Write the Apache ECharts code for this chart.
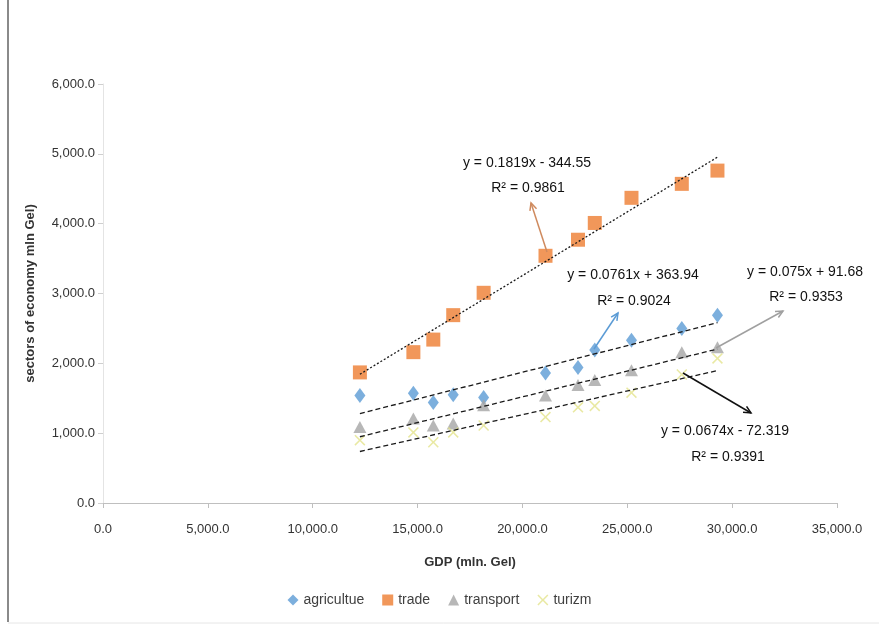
<!DOCTYPE html>
<html>
<head>
<meta charset="utf-8">
<script src="https://cdn.jsdelivr.net/npm/echarts@6/dist/echarts.min.js"></script>
<style>html,body{margin:0;padding:0;background:#fff}#c{width:879px;height:626px}</style>
</head>
<body>
<div id="c"></div>
<script>
const gdp = [12250, 14800, 15750, 16700, 18150, 21100, 22650, 23450, 25200, 27600, 29300];
const agriculture = [1540, 1570, 1440, 1550, 1510, 1860, 1940, 2190, 2330, 2500, 2690];
const trade = [1870, 2160, 2340, 2690, 3010, 3540, 3770, 4010, 4370, 4570, 4760];
const transport = [1090, 1210, 1110, 1140, 1400, 1540, 1690, 1760, 1900, 2160, 2230];
const turizm = [900, 1010, 870, 1010, 1110, 1230, 1370, 1390, 1580, 1840, 2070];
const seriesNames = ['agricultue', 'trade', 'transport', 'turizm'];
const equations = ['y = 0.0761x + 363.94', 'y = 0.1819x - 344.55', 'y = 0.075x + 91.68', 'y = 0.0674x - 72.319'];
const rSquared = ['R\u00b2 = 0.9024', 'R\u00b2 = 0.9861', 'R\u00b2 = 0.9353', 'R\u00b2 = 0.9391'];

const colors = ['#5b9bd5', '#ed7d31', '#a5a5a5', '#e4e48c'];
const xSym = 'path://M0,1 L1,0 L5,4 L9,0 L10,1 L6,5 L10,9 L9,10 L5,6 L1,10 L0,9 L4,5 Z';
const symbols = ['diamond', 'rect', 'triangle', xSym];
const sizes = [[11, 15], 14, [13, 12], 11];
const values = [agriculture, trade, transport, turizm];

function fit(xs, ys) {
  const n = xs.length;
  const mx = xs.reduce((a, b) => a + b, 0) / n;
  const my = ys.reduce((a, b) => a + b, 0) / n;
  let sxy = 0, sxx = 0;
  for (let i = 0; i < n; i++) { sxy += (xs[i] - mx) * (ys[i] - my); sxx += (xs[i] - mx) ** 2; }
  const b = sxy / sxx;
  return [my - b * mx, b];
}

const series = [];
values.forEach((v, i) => {
  series.push({
    name: seriesNames[i], type: 'scatter', symbol: symbols[i], symbolSize: sizes[i],
    itemStyle: { color: colors[i] }, z: 3,
    data: gdp.map((x, k) => [x, v[k]])
  });
});
values.forEach((v, i) => {
  const [a, b] = fit(gdp, v);
  const x0 = Math.min(...gdp), x1 = Math.max(...gdp);
  series.push({
    name: 'trend ' + seriesNames[i], type: 'line', symbol: 'none', silent: true, z: 4,
    lineStyle: { color: '#1a1a1a', width: 1.3, type: i === 1 ? [2, 2] : [5, 3] },
    data: [[x0, a + b * x0], [x1, a + b * x1]]
  });
});

const fmt = v => v.toLocaleString('en-US', { minimumFractionDigits: 1, maximumFractionDigits: 1 });

function arrow(x1, y1, x2, y2, color) {
  const ang = Math.atan2(y2 - y1, x2 - x1), L = 8, w = 0.45;
  const p1 = [x2 - L * Math.cos(ang - w), y2 - L * Math.sin(ang - w)];
  const p2 = [x2 - L * Math.cos(ang + w), y2 - L * Math.sin(ang + w)];
  return [
    { type: 'line', shape: { x1, y1, x2, y2 }, style: { stroke: color, lineWidth: 1.5 }, z: 10 },
    { type: 'polyline', shape: { points: [p1, [x2, y2], p2] }, style: { stroke: color, lineWidth: 1.5, fill: null }, z: 10 }
  ];
}
function label(text, x, y) {
  return { type: 'text', x, y, z: 10, style: { text, font: '14px "Liberation Sans", Arial, sans-serif', fill: '#111', textAlign: 'center', textVerticalAlign: 'middle' } };
}

const graphic = [
  { type: 'line', shape: { x1: 8, y1: 0, x2: 8, y2: 622 }, style: { stroke: '#8a8a8a', lineWidth: 2 } },
  { type: 'line', shape: { x1: 8, y1: 623, x2: 879, y2: 623 }, style: { stroke: '#e6e6e6', lineWidth: 1 } },
  label(equations[1], 527, 163), label(rSquared[1], 528, 188),
  label(equations[0], 633, 275), label(rSquared[0], 634, 301),
  label(equations[2], 805, 272), label(rSquared[2], 806, 297),
  label(equations[3], 725, 431), label(rSquared[3], 728, 457),
  ...arrow(547, 252, 531, 203, '#cf8a5e'),
  ...arrow(594, 349, 618, 313, '#5b9bd5'),
  ...arrow(716, 348, 783, 311, '#a0a0a0'),
  ...arrow(683, 373, 751, 413, '#111')
];

const chart = echarts.init(document.getElementById('c'));
chart.setOption({
  animation: false,
  textStyle: { fontFamily: '"Liberation Sans", Arial, sans-serif' },
  grid: { left: 103, right: 42, top: 84, bottom: 123 },
  legend: {
    data: seriesNames.map((n, i) => ({ name: n, icon: i === 3 ? xSym : symbols[i] })),
    bottom: 14, left: 'center', itemWidth: 11, itemHeight: 11, itemGap: 18,
    textStyle: { fontSize: 14, color: '#404040' }
  },
  xAxis: {
    type: 'value', min: 0, max: 35000, interval: 5000,
    name: 'GDP (mln. Gel)', nameLocation: 'middle', nameGap: 53,
    nameTextStyle: { fontSize: 13, fontWeight: 'bold', color: '#333' },
    axisLine: { lineStyle: { color: '#bfbfbf' } },
    axisTick: { show: true, length: 5, lineStyle: { color: '#bfbfbf' } },
    axisLabel: { fontSize: 13, color: '#333', margin: 20, formatter: fmt },
    splitLine: { show: false }
  },
  yAxis: {
    type: 'value', min: 0, max: 6000, interval: 1000,
    name: 'sectors of economy mln Gel)', nameLocation: 'middle', nameGap: 66,
    nameTextStyle: { fontSize: 13, fontWeight: 'bold', color: '#333' },
    axisLine: { show: true, lineStyle: { color: '#e4e4e4' } },
    axisTick: { show: true, length: 5, lineStyle: { color: '#cfcfcf' } },
    axisLabel: { fontSize: 13, color: '#333', margin: 8, formatter: fmt },
    splitLine: { show: false }
  },
  series,
  graphic
});
</script>
</body>
</html>
